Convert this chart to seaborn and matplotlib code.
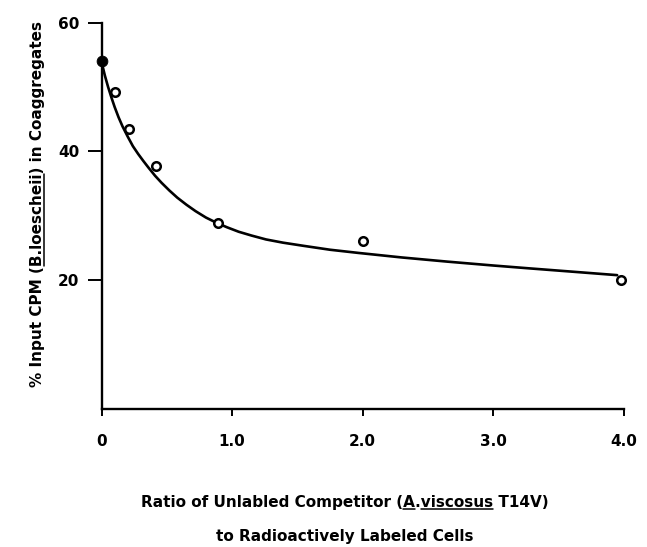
import numpy as np
import pandas as pd
import seaborn as sns
import matplotlib.pyplot as plt
from matplotlib.lines import Line2D

# measured points (ratio of unlabeled competitor, % input CPM)
ratio = [0.0, 0.10, 0.21, 0.42, 0.89, 2.0, 3.98]
pct_cpm = [54.0, 49.2, 43.4, 37.7, 28.9, 26.0, 20.0]
filled = [True, False, False, False, False, False, False]

# fitted curve
curve_x = [0.0, 0.025, 0.05, 0.075, 0.10, 0.13, 0.16, 0.20, 0.24, 0.28,
           0.32, 0.36, 0.41, 0.46, 0.52, 0.58, 0.65, 0.72, 0.80, 0.88,
           0.96, 1.05, 1.15, 1.26, 1.39, 1.55, 1.75, 1.97, 2.3, 2.65,
           3.0, 3.28, 3.6, 3.95]
curve_y = [53.9, 51.8, 50.0, 48.4, 46.9, 45.3, 43.9, 42.3, 40.8, 39.6,
           38.5, 37.45, 36.2, 35.1, 33.9, 32.8, 31.7, 30.7, 29.7, 28.9,
           28.2, 27.5, 26.9, 26.3, 25.8, 25.3, 24.7, 24.2, 23.5, 22.85,
           22.25, 21.8, 21.3, 20.75]

x_ticks = [0, 1, 2, 3, 4]
x_ticklabels = ["0", "1.0", "2.0", "3.0", "4.0"]
y_ticks = [20, 40, 60]

xlabel_1 = "Ratio of Unlabled Competitor (A.viscosus T14V)"
xlabel_2 = "to Radioactively Labeled Cells"
ylabel = "% Input CPM (B.loescheii) in Coaggregates"

sns.set_theme(style="ticks")
plt.rcParams["font.family"] = ["DejaVu Sans"]
plt.rcParams["font.weight"] = "bold"
for key in ["text.color", "axes.labelcolor", "xtick.color", "ytick.color",
            "axes.edgecolor"]:
    plt.rcParams[key] = "black"

fig = plt.figure(figsize=(6.47, 5.47), dpi=100)
ax = fig.add_axes([0.157, 0.253, 0.807, 0.7055])

pts = pd.DataFrame({"ratio": ratio, "cpm": pct_cpm, "filled": filled})
curve = pd.DataFrame({"x": curve_x, "y": curve_y})

sns.lineplot(data=curve, x="x", y="y", ax=ax, color="black", linewidth=1.9,
             sort=False, estimator=None)
sns.scatterplot(data=pts[~pts["filled"]], x="ratio", y="cpm", ax=ax, s=38,
                facecolor="white", edgecolor="black", linewidth=1.8,
                zorder=3, clip_on=False)
sns.scatterplot(data=pts[pts["filled"]], x="ratio", y="cpm", ax=ax, s=60,
                color="black", edgecolor="black", zorder=4, clip_on=False)

ax.set_xlim(0, 4)
ax.set_ylim(0, 60)
ax.set_xticks(x_ticks)
ax.set_xticklabels(x_ticklabels)
ax.set_yticks(y_ticks)
ax.set_xlabel("")
ax.set_ylabel("")
sns.despine(ax=ax)
for s in ["left", "bottom"]:
    ax.spines[s].set_linewidth(1.7)
ax.tick_params(axis="y", length=10, width=1.4, pad=6, labelsize=11)
ax.tick_params(axis="x", length=5, width=1.4, pad=13, labelsize=11)
for lab in ax.get_xticklabels() + ax.get_yticklabels():
    lab.set_fontweight("bold")

lab_font = dict(fontsize=11, fontweight="bold")
t1 = fig.text(0.533, (547 - 503) / 547, xlabel_1, ha="center", va="center",
              **lab_font)
t2 = fig.text(0.533, (547 - 537) / 547, xlabel_2, ha="center", va="center",
              **lab_font)
ty = fig.text(38 / 647, (547 - 204) / 547, ylabel, ha="center", va="center",
              rotation=90, **lab_font)


def underline(txt, start, end, renderer, vertical=False):
    s = txt.get_text()
    fp = txt.get_fontproperties()
    w0 = renderer.get_text_width_height_descent(s[:start], fp, ismath=False)[0]
    w1 = renderer.get_text_width_height_descent(s[:end], fp, ismath=False)[0]
    d = renderer.get_text_width_height_descent(s, fp, ismath=False)[2]
    bb = txt.get_window_extent(renderer)
    if vertical:
        xb = bb.x1 - d + 1.5
        p = [(xb, bb.y0 + w0), (xb, bb.y0 + w1)]
    else:
        yb = bb.y0 + d - 1.5
        p = [(bb.x0 + w0, yb), (bb.x0 + w1, yb)]
    p = fig.transFigure.inverted().transform(p)
    fig.add_artist(Line2D(p[:, 0], p[:, 1], color="black", linewidth=1.1,
                          transform=fig.transFigure))


fig.canvas.draw()
r = fig.canvas.get_renderer()
i = xlabel_1.index("A.")
underline(t1, i, i + 1, r)
j = xlabel_1.index("viscosus")
underline(t1, j, j + len("viscosus"), r)
k = ylabel.index("B.loescheii")
underline(ty, k, k + len("B.loescheii"), r, vertical=True)

fig.savefig("out.png", dpi=100)
